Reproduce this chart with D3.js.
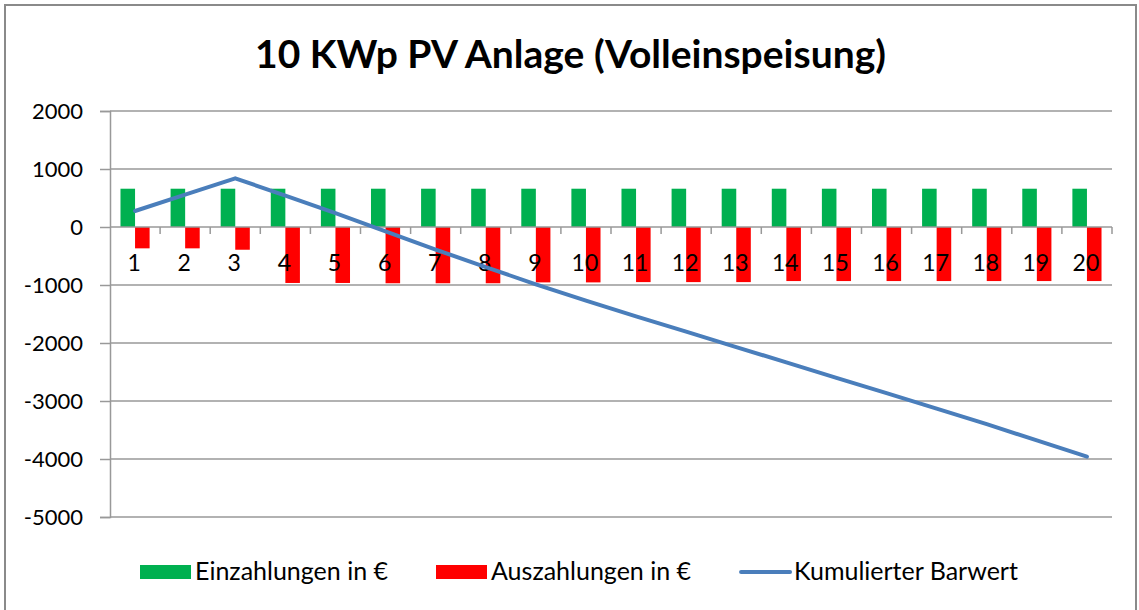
<!DOCTYPE html>
<html>
<head>
<meta charset="utf-8">
<script src="https://cdn.jsdelivr.net/npm/d3@7"></script>
<style>
  body { margin: 0; background: #fff; }
  svg text { font-family: Lato, "Open Sans", sans-serif; fill: #000; }
</style>
</head>
<body>
<svg width="1139" height="610"></svg>
<script>
// chart values
const years = ["1","2","3","4","5","6","7","8","9","10","11","12","13","14","15","16","17","18","19","20"];
const einzahlungen = [660,660,660,660,660,660,660,660,660,660,660,660,660,660,660,660,660,660,660,660];
const auszahlungen = [-368,-368,-392,-965,-965,-970,-970,-970,-955,-955,-950,-950,-950,-932,-932,-932,-932,-932,-932,-932];
const barwert = [276,558,840,540,240,-75,-390,-690,-990,-1270,-1540,-1805,-2070,-2335,-2600,-2865,-3130,-3400,-3680,-3960];
const yTicks = [2000,1000,0,-1000,-2000,-3000,-4000,-5000];
const seriesNames = ["Einzahlungen in €","Auszahlungen in €","Kumulierter Barwert"];

const colors = {
    "Einzahlungen in €": "#00b050",
    "Auszahlungen in €": "#ff0000",
    "Kumulierter Barwert": "#4a7ebb"
};

const svg = d3.select("svg"),
    width = +svg.attr("width"),
    height = +svg.attr("height");

const plot = { left: 110, right: 1112, top: 111, bottom: 517 };

// outer frame
svg.append("rect")
    .attr("x", 5).attr("y", 5)
    .attr("width", width - 8).attr("height", height)
    .attr("fill", "none")
    .attr("stroke", "#8a8a8a")
    .attr("stroke-width", 2);

svg.append("text")
    .attr("x", width / 2 + 1)
    .attr("y", 68)
    .attr("text-anchor", "middle")
    .style("font-size", "39px")
    .style("font-weight", "bold")
    .text("10 KWp PV Anlage (Volleinspeisung)");

const x = d3.scaleBand()
    .domain(years)
    .range([plot.left, plot.right])
    .padding(0);

const xInner = d3.scaleBand()
    .domain(seriesNames.slice(0, 2))
    .range([0, x.bandwidth()])
    .paddingInner(0)
    .paddingOuter(0.72);

const y = d3.scaleLinear()
    .domain([-5000, 2000])
    .range([plot.bottom, plot.top]);

// gridlines + y axis (plain hyphen for negatives, like the original)
const yAxis = svg.append("g")
    .attr("transform", `translate(${plot.left},0)`)
    .call(d3.axisLeft(y).tickValues(yTicks).tickSize(10).tickPadding(17).tickFormat(d => String(d)));
yAxis.select(".domain").attr("stroke", "#999").attr("stroke-width", 1.5);
yAxis.selectAll(".tick line").attr("stroke", "#999").attr("stroke-width", 1.5);
yAxis.selectAll(".tick text")
    .style("font-size", "22px")
    .style("font-family", "Lato, sans-serif")
    .attr("fill", "#000");

svg.append("g")
    .selectAll("line")
    .data(yTicks.filter(d => d !== 0))
    .join("line")
    .attr("x1", plot.left).attr("x2", plot.right)
    .attr("y1", d => y(d)).attr("y2", d => y(d))
    .attr("stroke", "#999")
    .attr("stroke-width", 1.5);

// bars
const bars = svg.append("g");
bars.selectAll("rect.ein")
    .data(einzahlungen)
    .join("rect")
    .attr("class", "ein")
    .attr("x", (d, i) => x(years[i]) + xInner(seriesNames[0]))
    .attr("width", xInner.bandwidth())
    .attr("y", d => y(Math.max(0, d)))
    .attr("height", d => Math.abs(y(d) - y(0)))
    .attr("fill", colors[seriesNames[0]]);

bars.selectAll("rect.aus")
    .data(auszahlungen)
    .join("rect")
    .attr("class", "aus")
    .attr("x", (d, i) => x(years[i]) + xInner(seriesNames[1]))
    .attr("width", xInner.bandwidth())
    .attr("y", d => y(Math.max(0, d)))
    .attr("height", d => Math.abs(y(d) - y(0)))
    .attr("fill", colors[seriesNames[1]]);

// category axis on the zero line, ticks between categories
const zeroY = y(0);
svg.append("line")
    .attr("x1", plot.left).attr("x2", plot.right)
    .attr("y1", zeroY).attr("y2", zeroY)
    .attr("stroke", "#999").attr("stroke-width", 1.5);

svg.append("g")
    .selectAll("line")
    .data(years)
    .join("line")
    .attr("x1", d => x(d) + x.bandwidth()).attr("x2", d => x(d) + x.bandwidth())
    .attr("y1", zeroY).attr("y2", zeroY + 7)
    .attr("stroke", "#999").attr("stroke-width", 1.5);

svg.append("g")
    .selectAll("text")
    .data(years)
    .join("text")
    .attr("x", d => x(d) + x.bandwidth() / 2 - 1)
    .attr("y", zeroY + 44)
    .attr("text-anchor", "middle")
    .style("font-size", "23px")
    .text(d => d);

// cumulative line
const line = d3.line()
    .x((d, i) => x(years[i]) + x.bandwidth() / 2)
    .y(d => y(d));

svg.append("path")
    .datum(barwert)
    .attr("d", line)
    .attr("fill", "none")
    .attr("stroke", colors[seriesNames[2]])
    .attr("stroke-width", 4)
    .attr("stroke-linejoin", "round")
    .attr("stroke-linecap", "round");

// legend
const legend = svg.append("g").attr("transform", "translate(140,572)");
let lx = 0;
seriesNames.forEach((name, i) => {
    const item = legend.append("g").attr("transform", `translate(${lx},0)`);
    if (i < 2) {
        item.append("rect")
            .attr("x", 0).attr("y", -7)
            .attr("width", 51).attr("height", 14)
            .attr("fill", colors[name]);
    } else {
        item.append("line")
            .attr("x1", 2).attr("x2", 51)
            .attr("y1", 0).attr("y2", 0)
            .attr("stroke", colors[name])
            .attr("stroke-width", 4)
            .attr("stroke-linecap", "round");
    }
    const t = item.append("text")
        .attr("x", 55)
        .attr("y", 8)
        .style("font-size", "25px")
        .text(name);
    lx += 55 + t.node().getComputedTextLength() + 48;
});
</script>
</body>
</html>
